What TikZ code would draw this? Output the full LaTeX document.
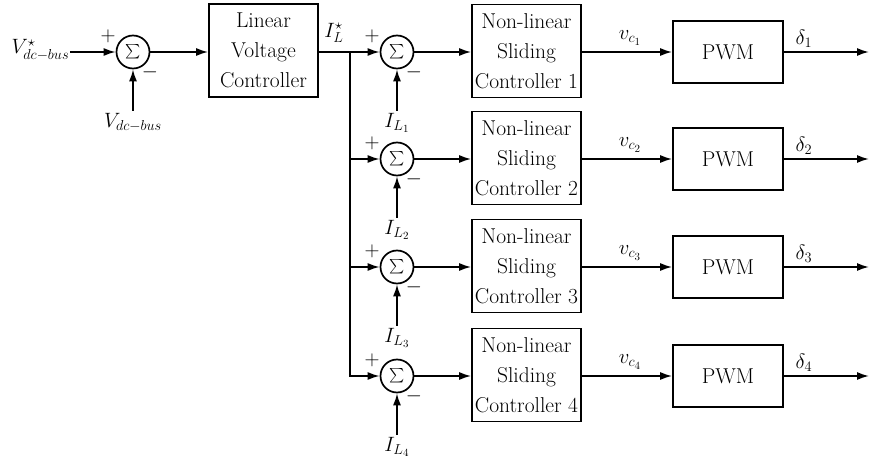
\documentclass[tikz,border=0pt]{standalone}
\usepackage{exscale}
\usetikzlibrary{arrows.meta}
\begin{document}
\begin{tikzpicture}[x=1pt,y=-1pt,
  font=\fontsize{21.5}{30}\selectfont,
  line width=1.7pt,
  >={Latex[length=12pt,width=8pt]},
  blk/.style={draw, minimum width=109pt, minimum height=93pt, align=center, inner sep=0pt},
  pwmbox/.style={draw, minimum width=110pt, minimum height=62pt, inner sep=0pt},
  sumc/.style={draw, circle, minimum size=33pt, inner sep=0pt, font=\fontsize{15}{15}\selectfont},
  lbl/.style={inner sep=1pt},
  sgn/.style={inner sep=0pt}]
\useasboundingbox (0,0) rectangle (871,465);

% first summing junction and linear controller
\node[sumc] (s0) at (133,52) {$\sum$};
\node[anchor=east, inner sep=0pt] (vref) at (70,50) {$V^\star_{dc-bus}$};
\node[anchor=north, inner sep=1.5pt] (vfb) at (133,111) {$V_{dc-bus}$};
\node[sgn] (p0) at (108,36) {$+$};
\node[sgn] (m0) at (150,72) {$-$};
\node[blk] (lin) at (263.5,50.5) {Linear\\Voltage\\Controller};
\node[lbl] (ilref) at (334,33) {$I_L^\star$};

\draw[->] (vref.east |- s0) -- (s0.west);
\draw[->] (vfb.north) -- (s0.south);
\draw[->] (s0.east) -- (s0.east -| lin.west);

% rows
\foreach \k/\y in {1/52,2/159,3/267,4/376}{
  \node[sumc] (s\k) at (397,\y) {$\sum$};
  \node[sgn] (p\k) at (372,\y-16) {$+$};
  \node[sgn] (m\k) at (414,\y+20) {$-$};
  \node[anchor=north, inner sep=1.5pt] (il\k) at (397,\y+59) {$I_{L_\k}$};
  \node[blk] (n\k) at (526.5,\y-1) {Non-linear\\Sliding\\Controller \k};
  \node[pwmbox] (w\k) at (728,\y) {PWM};
  \node[anchor=south, lbl] (v\k) at (630,\y-5) {$v_{c_\k}$};
  \node[anchor=south, lbl] (d\k) at (804,\y-3) {$\delta_\k$};
  \coordinate (o\k) at (869,\y);
  \draw[->] (il\k.north) -- (s\k.south);
  \draw[->] (s\k.east) -- (s\k.east -| n\k.west);
  \draw[->] (n\k.east |- s\k) -- (w\k.west);
  \draw[->] (w\k.east) -- (o\k);
}

% distribution of the current reference
\coordinate (br) at (350,52);
\draw[->] (lin.east |- s1) -- (s1.west);
\draw[->] (br) |- (s4.west);
\draw[->] (br |- s2) -- (s2.west);
\draw[->] (br |- s3) -- (s3.west);
\end{tikzpicture}
\end{document}
